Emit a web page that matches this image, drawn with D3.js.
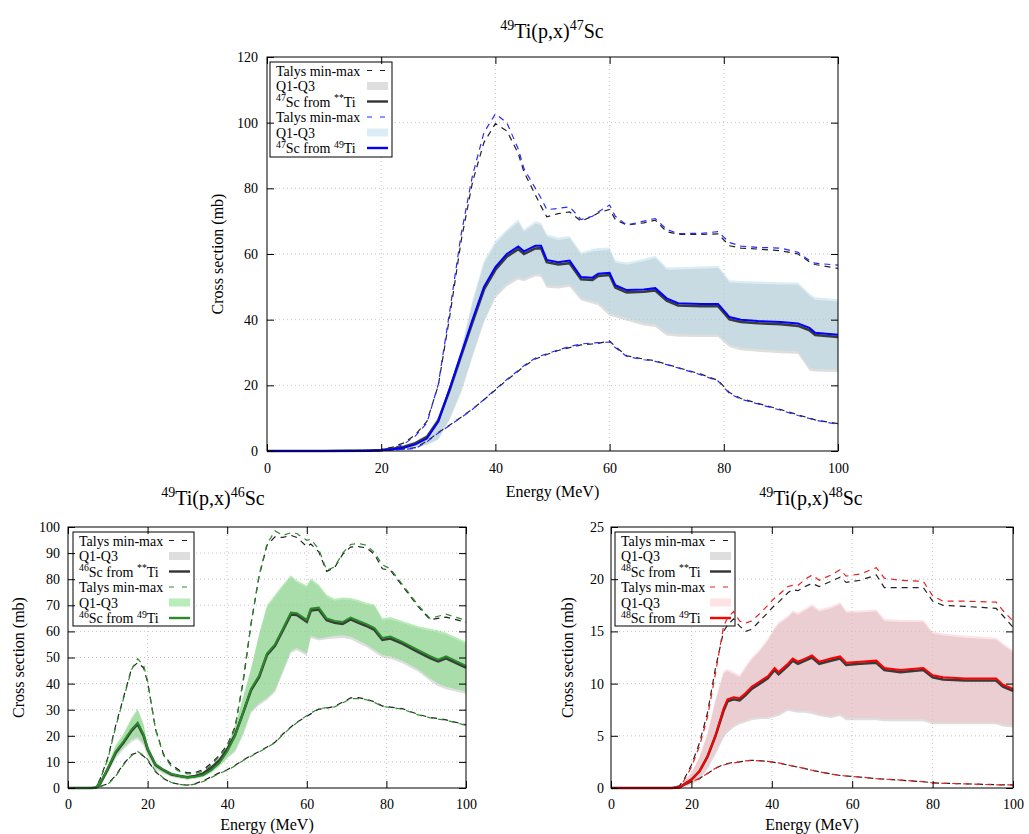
<!DOCTYPE html>
<html><head><meta charset="utf-8">
<script src="https://cdn.jsdelivr.net/npm/d3@7"></script>
<style>body{margin:0;background:#fff;} svg{display:block;} svg text{font-family:"Liberation Serif","Times New Roman",Times,serif !important;}</style>
</head><body><svg id="c" width="1029" height="834"></svg>
<script>
// ---------- Panel A: 49Ti(p,x)47Sc ----------
const energyA = [0,10,18,20,22,24,26,28,30,32,34,36,38,40,42,44,45,47,48,49,51,53,55,57,58,60,61,63,66,68,70,72,76,79,81,83,86,90,93,95,96,100];
const medA_Ti49 = [0,0,0.1,0.2,0.5, 1,2,3.8,9,19, 29.5,40,50,56,60, 62.3,60.8,62.5,62.5,58.2, 57.5,58,53,52.8,54, 54.3,50.5,49,49.2,49.6, 46.5,45,44.8,44.8,40.8, 40,39.6,39.3,38.8,37.5, 36,35.4];
const medA_all  = [0,0,0.1,0.3,0.7, 1.3,2.4,4.3,9.3,18.6, 29,39.3,49.2,55.2,59.2, 61.5,60,61.7,61.8,57.5, 56.8,57.2,52.3,52.1,53.3, 53.6,49.8,48.3,48.5,48.9, 45.8,44.3,44.1,44.1,40.1, 39.3,38.9,38.6,38.1,36.8, 35.3,34.7];
const q3A_Ti49  = [0,0,0.1,0.3,0.8, 1.4,2.6,4.5,10,20, 31,46,58,64,67.5, 70.5,67.5,70,69.5,66, 65,65.5,60.5,61.5,61.8, 62,58,57.4,58.5,59.5, 55.9,56,56.2,56.4,52, 51.8,51.6,51.4,51.3,48, 46.8,46.2];
const q1A_Ti49  = [0,0,0,0.1,0.3, 0.6,1.1,1.8,3.5,10, 18.5,29.5,40,47.5,51, 53,52.5,54,53.8,50.5, 50.3,50.8,46.7,45.7,45.2, 42,41.5,40.5,39,38.6, 36,35.6,35.5,35.5,32.4, 31.5,31,30.6,30.4,25.3, 25,24.8];
const q3A_all   = [0,0,0.1,0.4,0.9, 1.8,3,5,10.5,20, 30.5,45,57,63,66.8, 69.7,66.8,69.2,68.8,65.3, 64.3,64.8,59.8,60.8,61, 61.2,57.3,56.7,57.8,58.8, 55.2,55.3,55.5,55.7,51.3, 51.1,50.9,50.7,50.6,47.3, 46.1,45.5];
const q1A_all   = [0,0,0,0.1,0.4, 0.8,1.3,2,3.6,9.6, 17.8,28.7,39.2,46.6,50.2, 52.2,51.7,53.2,53,49.7, 49.5,50,45.9,44.9,44.4, 41.2,40.7,39.7,38.2,37.8, 35.2,34.8,34.7,34.7,31.6, 30.7,30.2,29.8,29.6,24.5, 24.2,24];
const maxA_Ti49 = [0,0,0.2,0.4,0.8, 2.1,4.6,8.5,20.3,42.5, 66,84,97,102.7,100, 92,86,80,77,73.5, 73.9,74.4,70.5,71.5,72.8, 74.9,71.5,68.8,70,70.8, 67.5,66.2,66.3,66.8,63.5, 62.4,62,61.8,60.5,58, 57.2,56.6];
const maxA_all  = [0,0,0.2,0.5,1.2, 2.5,5,9,20,41, 64,82,94,99.7,97.5, 90.6,85,78,74.5,71.3, 72.3,72.8,70,71.5,72.5, 73.6,70.5,68.8,69.5,70.3, 66.8,66,66,66.1,62.5, 61.8,61.5,61,60,57.6, 56.8,55.6];
const minA_Ti49 = [0,0,0,0.1,0.3, 0.5,0.8,2.8,5.5,7.8, 10.2,12.7,15.7,18.8,21.8, 24.5,26,28.3,29,29.6, 30.8,31.8,32.6,32.9,33, 33.2,31.5,28.8,27.8,27.3, 26.3,25.3,23.2,21.3,17.5, 15.8,14.3,12.4,10.8,9.9, 9.4,8.1];
const minA_all  = [0,0,0,0.1,0.3, 0.6,1,3,5.6,7.9, 10.3,12.8,15.6,18.6,21.6, 24.3,25.8,28,28.7,29.4, 30.6,31.5,32.3,32.6,32.8, 33.5,31.8,29,28,27.5, 26.4,25.4,23.4,21.5,17.8, 16,14.5,12.6,11,10, 9.5,8.3];

// ---------- Panel B: 49Ti(p,x)46Sc ----------
const energyB = [0,6,7,8,10,12,14,16,17.5,19,20,22,24,26,28,30,32,34,36,38,40,42,44,46,48,50,52,54,56,57.5,60,61,63,65,67,69,71,73,75,77,79,81,84,88,91,93,95,100];
const medB_Ti49 = [0,0,0.2,1.5,7.5, 14,18,22.5,25,20.5, 15,9,7,5.3,4.6, 4,4.3,5,6.8,9.5, 14,20,29,38,43, 51.5,55,61,67.2,67, 64.4,68.7,69.1,65,64, 63.6,65.3,64,62.8,61.3, 57.5,58,56,52.8,50.5, 49.2,50.4,46.8];
const medB_all  = [0,0,0.2,1.4,7.2, 13.5,17.5,22,24.5,20, 14.8,8.8,6.8,5.2,4.6, 4.1,4.6,5.6,7.8,10.5, 14.8,20.5,28.8,37.5,42.5, 51,54.5,60.5,66.5,66.3, 63.7,68,68.4,64.3,63.3, 62.9,64.6,63.3,62.1,60.6, 56.8,57.3,55.3,52.1,49.8, 48.5,49.7,46.1];
const q3B_Ti49  = [0,0,0.3,2,9, 16.5,21,27,30.5,24.5, 17,10,7.5,6,5.3, 4.8,5,6,8,11, 16,24,35,46,59, 70,74,78,81.5,79.5, 77.6,80.3,78,74,72.5, 73,72.8,72,71,70.3, 65,65.5,64,62,61, 60.4,59.5,56];
const q1B_Ti49  = [0,0,0.1,1,6, 12,15.5,18.5,19.5,17, 13,7.5,5.8,4.5,3.8, 3.3,3.6,4.2,5.8,8.2, 11.5,14.5,21,29.5,32.5, 34.5,37.5,45,52.5,53.6, 51.5,58.3,57.3,57.8,58.3, 58.5,58,56.5,55,53, 51,50.5,48.8,45.5,42, 40,38.8,37];
const q3B_all   = [0,0,0.3,1.8,8.5, 15.8,20.3,26.2,29.7,23.8, 16.4,9.6,7.2,5.8,5.1, 4.7,5.1,6.3,8.4,11.3, 15.6,23.3,34.2,45.2,58.2, 69.2,73.2,77.2,80.7,78.7, 76.8,79.5,77.2,73.2,71.7, 72.2,72,71.2,70.2,69.5, 64.2,64.7,63.2,61.2,60.2, 59.6,58.7,55.2];
const q1B_all   = [0,0,0.1,0.9,5.6, 11.3,14.8,17.7,18.7,16.2, 12.3,7,5.4,4.2,3.6, 3.2,3.6,4.4,6.1,8.5, 11.5,13.8,20.2,28.7,31.7, 33.7,36.7,44.2,51.7,52.8, 50.7,57.5,56.5,57,57.3, 57.5,57,55.5,54,52, 50,49.5,47.8,44.5,41, 39,37.8,36];
const maxB_Ti49 = [0,0,0.3,3,11, 23.5,34.5,45.5,49.5,47, 41,22.5,12.5,8.2,6.3, 5.4,5.6,6.5,8.8,12, 16,23,41.5,63,81.5, 93.5,98.5,96.8,97.8,97.5, 94.9,95.3,91.5,83.4,84.7, 90,93.3,93.7,93,90.2, 85.5,84,78,70,64.9, 65.8,66.6,64.2];
const maxB_all  = [0,0,0.3,3.2,11.5, 24,35,46,48,46, 40.5,22.5,13,8.8,6.8, 5.8,6,7,9.5,12.5, 16.5,23.5,40.5,63,81, 93,96.2,96,96.8,96, 92.5,93.5,90.5,83,84.5, 89.5,92.3,92.5,92,89.5, 84,83.4,77.5,69.5,64.5, 65,65.5,63.5];
const minB_Ti49 = [0,0,0.2,0.5,1.4, 4.5,9,12.5,14,12.5, 11,6.5,3.8,2.1,1.4, 1,1.5,2.5,4,5.6, 6.8,8.5,10.5,12.2,13.8, 15.5,17.3,20.5,23.2,25, 27.8,28.7,30.4,30.8,31.1, 32.6,34.2,34.3,33.8,32.8, 31.2,30.9,30.2,28,26.9, 26.4,26,24];
const minB_all  = [0,0,0.2,0.6,1.6, 4.8,9.3,12.8,13.6,12.2, 10.6,6.2,3.6,2,1.4, 1.1,1.7,2.8,4.3,5.8, 7,8.7,10.7,12.4,14, 15.7,17.5,20.7,23.4,25.2, 27.5,28.4,30.2,30.6,31.3, 32.9,34.5,34.6,34,33, 31.4,31,30.4,28.2,27, 26.6,26.1,24.2];

// ---------- Panel C: 49Ti(p,x)48Sc ----------
const energyC = [0,15,17,18,20,22,24,26,28,29,30.5,32,33.5,35,37,39,40.7,41.7,44,45.2,46.5,48.3,50,51.8,54.7,57,58.5,62,66,68,72,77.7,80,82.6,88,95.8,97.5,100];
const medC_Ti49 = [0,0,0.05,0.3,0.8, 1.6,3,5,7.6,8.5, 8.7,8.6,9.1,9.7,10.2, 10.7,11.5,11.1,11.9,12.4, 12.1,12.4,12.7,12.1,12.4, 12.6,12,12.1,12.2,11.5, 11.3,11.5,10.8,10.6,10.5, 10.5,9.9,9.5];
const medC_all  = [0,0,0.05,0.3,0.8, 1.6,3,5,7.4,8.3, 8.5,8.4,8.9,9.5,10, 10.5,11.3,10.9,11.7,12.2, 11.9,12.2,12.5,11.9,12.2, 12.4,11.8,11.9,12,11.3, 11.1,11.3,10.6,10.4,10.3, 10.3,9.7,9.3];
const q3C_Ti49  = [0,0,0.1,0.5,1.5, 3,5.3,8.5,11.2,11.4, 11.1,10.8,11.7,12.5,13.3, 14.3,15.4,15.9,16.5,17, 16.8,17.2,17.6,17.1,17.4, 17.8,17,17,17.1,16.2, 16.1,16.1,15,14.8,14.6, 14.4,13.9,13.2];
const q1C_Ti49  = [0,0,0,0.1,0.4, 0.9,2,3.4,5,5.5, 6,6.3,6.5,6.7,6.8, 6.8,7,7.1,7.6,7.5, 7.4,7.4,7.3,7.1,6.9, 7.1,6.7,6.7,6.7,6.6, 6.6,6.6,6.3,6.3,6.3, 6.3,6.1,6];
const q3C_all   = [0,0,0.1,0.5,1.4, 2.9,5.1,8.3,11,11.2, 10.9,10.6,11.5,12.3,13.1, 14.1,15.2,15.7,16.3,16.8, 16.6,17,17.4,16.9,17.2, 17.6,16.8,16.8,16.9,16, 15.9,15.9,14.8,14.6,14.4, 14.2,13.7,13];
const q1C_all   = [0,0,0,0.1,0.3, 0.8,1.8,3.2,4.8,5.3, 5.8,6.1,6.3,6.5,6.6, 6.6,6.8,6.9,7.4,7.3, 7.2,7.2,7.1,6.9,6.7, 6.9,6.5,6.5,6.5,6.4, 6.4,6.4,6.1,6.1,6.1, 6.1,5.9,5.8];
const maxC_Ti49 = [0,0,0.2,0.6,2, 4,6.8,11,15.5,16.3, 16.9,16,15.8,16,16.7, 17.5,18.2,18.5,19.3,19.4, 19.4,20,20.4,19.9,20.4, 20.9,20.3,20.5,21.1,20.1, 19.9,19.8,18.4,17.9,17.9, 17.8,17,16];
const maxC_all  = [0,0,0.2,0.7,2.2, 4.3,7.2,11.5,15,15.6, 16.2,15.5,15,15.2,16, 16.8,17.5,17.8,18.7,19, 18.9,19.3,19.6,19.3,19.8, 20.2,19.7,19.9,20.4,19.2, 19.2,19.2,17.9,17.5,17.4, 17.2,16.5,15.4];
const minC_Ti49 = [0,0,0.05,0.2,0.6, 0.9,1.4,1.9,2.2,2.3, 2.4,2.5,2.6,2.65,2.6, 2.55,2.45,2.4,2.2,2.1, 2,1.85,1.7,1.55,1.35, 1.2,1.15,1.05,0.9,0.85, 0.75,0.6,0.5,0.45,0.4, 0.3,0.3,0.3];
const minC_all  = [0,0,0.05,0.2,0.6, 0.9,1.4,1.9,2.25,2.35, 2.45,2.5,2.6,2.65,2.62, 2.55,2.45,2.4,2.2,2.1, 2,1.85,1.7,1.55,1.35, 1.2,1.15,1.05,0.9,0.85, 0.75,0.6,0.5,0.45,0.4, 0.32,0.3,0.3];

// ---------- ticks / labels ----------
const xTicks = [0,20,40,60,80,100];
const yTicksA = [0,20,40,60,80,100,120];
const yTicksB = [0,10,20,30,40,50,60,70,80,90,100];
const yTicksC = [0,5,10,15,20,25];
const titleA = "^{49}Ti(p,x)^{47}Sc";
const titleB = "^{49}Ti(p,x)^{46}Sc";
const titleC = "^{49}Ti(p,x)^{48}Sc";
const legendA = ["Talys min-max","Q1-Q3","^{47}Sc from ^{**}Ti","Talys min-max","Q1-Q3","^{47}Sc from ^{49}Ti"];
const legendB = ["Talys min-max","Q1-Q3","^{46}Sc from ^{**}Ti","Talys min-max","Q1-Q3","^{46}Sc from ^{49}Ti"];
const legendC = ["Talys min-max","Q1-Q3","^{48}Sc from ^{**}Ti","Talys min-max","Q1-Q3","^{48}Sc from ^{49}Ti"];
const xLabel = "Energy (MeV)";
const yLabel = "Cross section (mb)";

const FONT = "Liberation Serif, Times New Roman, Times, serif";
const svg = d3.select("#c");

function rich(sel, str, size) {
  const parts = str.split(/(\^\{[^}]*\})/).filter(s => s.length);
  let raised = false;
  parts.forEach(s => {
    const m = s.match(/^\^\{(.*)\}$/);
    if (m) {
      sel.append("tspan").attr("font-size", size * 0.7).attr("dy", raised ? 0 : -size * 0.38).text(m[1]);
      raised = true;
    } else {
      sel.append("tspan").attr("font-size", size).attr("dy", raised ? size * 0.38 : 0).text(s);
      raised = false;
    }
  });
}

function drawPanel(p) {
  const x = d3.scaleLinear().domain([0, 100]).range([p.left, p.right]);
  const y = d3.scaleLinear().domain([0, p.ymax]).range([p.bottom, p.top]);
  const g = svg.append("g");
  // grid
  g.append("g").selectAll("line").data(xTicks.filter(v => v > 0 && v < 100)).join("line")
    .attr("x1", d => x(d)).attr("x2", d => x(d)).attr("y1", p.top).attr("y2", p.bottom)
    .attr("stroke", "#b8b8b8").attr("stroke-width", 0.8).attr("stroke-dasharray", "1,3");
  g.append("g").selectAll("line").data(p.yTicks.filter(v => v > 0 && v < p.ymax)).join("line")
    .attr("y1", d => y(d)).attr("y2", d => y(d)).attr("x1", p.left).attr("x2", p.right)
    .attr("stroke", "#b8b8b8").attr("stroke-width", 0.8).attr("stroke-dasharray", "1,3");

  // legend
  const L = p.legend;
  const lg = g.append("g");
  lg.append("rect").attr("x", L.x).attr("y", L.y).attr("width", L.w).attr("height", L.h)
    .attr("fill", "#fff").attr("stroke", "#000").attr("stroke-width", 1);
  const sx0 = L.x + L.w - 25, sx1 = L.x + L.w - 4;
  const styles = [
    {t: "dash", c: "#222"}, {t: "band", c: "#bebebe", o: 0.5}, {t: "line", c: "#333"},
    {t: "dash", c: p.dashColor}, {t: "band", c: p.bandColor, o: p.bandOpacity}, {t: "line", c: p.color}
  ];
  p.legendLabels.forEach((lab, i) => {
    const cy = L.y + 8.5 + i * 15.5;
    const tx = lg.append("text").attr("x", L.x + 6).attr("y", cy + 5)
      .attr("font-family", FONT).attr("font-size", 14).attr("fill", "#000");
    rich(tx, lab, 14);
    const s = styles[i];
    if (s.t === "dash") {
      lg.append("line").attr("x1", sx0).attr("x2", sx1).attr("y1", cy).attr("y2", cy)
        .attr("stroke", s.c).attr("stroke-width", 1.2).attr("stroke-dasharray", "5,8");
    } else if (s.t === "band") {
      lg.append("rect").attr("x", sx0).attr("y", cy - 4).attr("width", sx1 - sx0).attr("height", 8)
        .attr("fill", s.c).attr("fill-opacity", s.o);
    } else {
      lg.append("line").attr("x1", sx0).attr("x2", sx1).attr("y1", cy).attr("y2", cy)
        .attr("stroke", s.c).attr("stroke-width", 2.4);
    }
  });

  // data
  const E = p.energy;
  const area = (lo, hi) => d3.area().x((d, i) => x(E[i])).y0((d, i) => y(lo[i])).y1((d, i) => y(hi[i]))(E);
  const line = (v) => d3.line().x((d, i) => x(E[i])).y((d, i) => y(v[i]))(E);
  const dg = g.append("g");
  dg.append("path").attr("d", area(p.q1all, p.q3all)).attr("fill", "#bebebe").attr("fill-opacity", 0.5);
  dg.append("path").attr("d", area(p.q1, p.q3)).attr("fill", p.bandColor).attr("fill-opacity", p.bandOpacity);
  [p.maxall, p.minall].forEach(v => dg.append("path").attr("d", line(v)).attr("fill", "none")
    .attr("stroke", "#222").attr("stroke-width", 1.2).attr("stroke-dasharray", "6,5"));
  [p.max, p.min].forEach(v => dg.append("path").attr("d", line(v)).attr("fill", "none")
    .attr("stroke", p.dashColor).attr("stroke-width", 1.2).attr("stroke-dasharray", "6,5").attr("stroke-dashoffset", 3));
  dg.append("path").attr("d", line(p.medall)).attr("fill", "none").attr("stroke", "#3a3a3a").attr("stroke-width", 2.6);
  dg.append("path").attr("d", line(p.med)).attr("fill", "none").attr("stroke", p.color).attr("stroke-width", 2);

  // frame
  g.append("rect").attr("x", p.left).attr("y", p.top).attr("width", p.right - p.left).attr("height", p.bottom - p.top)
    .attr("fill", "none").attr("stroke", "#000").attr("stroke-width", 1);

  const styleAxis = a => {
    a.attr("font-family", FONT).attr("font-size", 14);
    a.select(".domain").remove();
    a.selectAll("line").attr("stroke", "#000");
    a.selectAll("text").attr("font-family", FONT).attr("font-size", 14).attr("fill", "#000");
  };
  g.append("g").attr("transform", `translate(0,${p.bottom})`)
    .call(d3.axisBottom(x).tickValues(xTicks).tickSizeInner(-7).tickSizeOuter(0).tickPadding(p.xpad)).call(styleAxis);
  g.append("g").attr("transform", `translate(0,${p.top})`)
    .call(d3.axisTop(x).tickValues(xTicks).tickSizeInner(-7).tickSizeOuter(0).tickFormat("")).call(styleAxis);
  g.append("g").attr("transform", `translate(${p.left},0)`)
    .call(d3.axisLeft(y).tickValues(p.yTicks).tickSizeInner(-7).tickSizeOuter(0).tickPadding(p.ypad)).call(styleAxis);
  g.append("g").attr("transform", `translate(${p.right},0)`)
    .call(d3.axisRight(y).tickValues(p.yTicks).tickSizeInner(-7).tickSizeOuter(0).tickFormat("")).call(styleAxis);

  // labels
  g.append("text").attr("x", (p.left + p.right) / 2).attr("y", p.xLabelY).attr("text-anchor", "middle")
    .attr("font-family", FONT).attr("font-size", 16).text(xLabel);
  g.append("text").attr("transform", `translate(${p.yLabelX},${(p.top + p.bottom) / 2}) rotate(-90)`)
    .attr("text-anchor", "middle").attr("font-family", FONT).attr("font-size", 16).text(yLabel);
  const tt = g.append("text").attr("x", p.titleX).attr("y", p.titleY).attr("text-anchor", "middle")
    .attr("font-family", FONT).attr("font-size", 20);
  rich(tt, p.title, 20);
}

drawPanel({
  left: 267, right: 838, top: 57, bottom: 451, ymax: 120, yTicks: yTicksA, xpad: 12, ypad: 9,
  xLabelY: 497, yLabelX: 223, titleX: 552, titleY: 38, title: titleA,
  legend: {x: 270, y: 62, w: 122, h: 95}, legendLabels: legendA,
  energy: energyA, med: medA_Ti49, medall: medA_all, q1: q1A_Ti49, q3: q3A_Ti49, q1all: q1A_all, q3all: q3A_all,
  max: maxA_Ti49, min: minA_Ti49, maxall: maxA_all, minall: minA_all,
  color: "#0000ff", dashColor: "#2a2aff", bandColor: "#add8e6", bandOpacity: 0.45
});
drawPanel({
  left: 68, right: 466, top: 527, bottom: 788, ymax: 100, yTicks: yTicksB, xpad: 11, ypad: 8,
  xLabelY: 830, yLabelX: 24, titleX: 213, titleY: 505, title: titleB,
  legend: {x: 73, y: 532, w: 121, h: 94}, legendLabels: legendB,
  energy: energyB, med: medB_Ti49, medall: medB_all, q1: q1B_Ti49, q3: q3B_Ti49, q1all: q1B_all, q3all: q3B_all,
  max: maxB_Ti49, min: minB_Ti49, maxall: maxB_all, minall: minB_all,
  color: "#2a8a2a", dashColor: "#2e8b2e", bandColor: "#7ddc7d", bandOpacity: 0.55
});
drawPanel({
  left: 611, right: 1013, top: 527, bottom: 788, ymax: 25, yTicks: yTicksC, xpad: 11, ypad: 7,
  xLabelY: 830, yLabelX: 573, titleX: 811, titleY: 505, title: titleC,
  legend: {x: 615, y: 532, w: 120, h: 94}, legendLabels: legendC,
  energy: energyC, med: medC_Ti49, medall: medC_all, q1: q1C_Ti49, q3: q3C_Ti49, q1all: q1C_all, q3all: q3C_all,
  max: maxC_Ti49, min: minC_Ti49, maxall: maxC_all, minall: minC_all,
  color: "#ff0000", dashColor: "#e82020", bandColor: "#ffb6c1", bandOpacity: 0.4
});
</script></body></html>
